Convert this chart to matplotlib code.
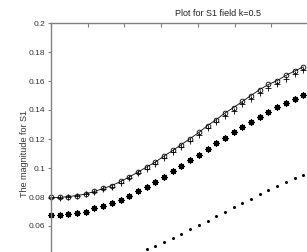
import numpy as np
import matplotlib
matplotlib.use("Agg")
import matplotlib.pyplot as plt

plt.rcParams['font.family'] = ['Liberation Sans', 'DejaVu Sans']

# sample index along the x axis
x = list(range(30))
# solid line with circles
s_circle = [0.0797, 0.0797, 0.0803, 0.0810, 0.0821, 0.0838, 0.0859, 0.0879, 0.0907, 0.0938,
            0.0972, 0.1007, 0.1041, 0.1083, 0.1121, 0.1162, 0.1203, 0.1245, 0.1293, 0.1334,
            0.1379, 0.1417, 0.1459, 0.1500, 0.1541, 0.1576, 0.1603, 0.1638, 0.1669, 0.1697]
# plus markers, just under the circles
s_plus = [0.0794, 0.0794, 0.0800, 0.0807, 0.0818, 0.0835, 0.0852, 0.0872, 0.0900, 0.0931,
          0.0965, 0.0993, 0.1027, 0.1069, 0.1107, 0.1148, 0.1186, 0.1228, 0.1276, 0.1317,
          0.1362, 0.1396, 0.1438, 0.1479, 0.1520, 0.1555, 0.1579, 0.1614, 0.1645, 0.1673]
# asterisks
s_star = [0.0679, 0.0679, 0.0686, 0.0690, 0.0700, 0.0721, 0.0738, 0.0759, 0.0779, 0.0807,
          0.0841, 0.0869, 0.0903, 0.0938, 0.0976, 0.1014, 0.1055, 0.1093, 0.1131, 0.1172,
          0.1207, 0.1248, 0.1283, 0.1317, 0.1352, 0.1386, 0.1421, 0.1448, 0.1479, 0.1503]
# dots (lower part runs off the bottom of the picture)
x_dot = list(range(10, 30))
s_dot = [0.0417, 0.0441, 0.0465, 0.0493, 0.0517, 0.0548, 0.0579, 0.0607, 0.0634, 0.0669,
         0.0697, 0.0731, 0.0759, 0.0786, 0.0821, 0.0848, 0.0876, 0.0903, 0.0931, 0.0952]
yticks = [0.06, 0.08, 0.1, 0.12, 0.14, 0.16, 0.18, 0.2]
ylabels = ['0.06', '0.08', '0.1', '0.12', '0.14', '0.16', '0.18', '0.2']

W, H = 307, 252
fig = plt.figure(figsize=(W / 100, H / 100), dpi=100)
# axes run past the right and bottom edges (cropped figure)
ax = fig.add_axes([51 / W, -32 / H, 334 / W, 261 / H])

ax.plot(x, s_circle, color='k', ls='-', lw=0.6, marker='o', ms=3.4, mfc='none', mew=0.6, clip_on=False)
ax.plot(x, s_plus, color='k', ls='none', marker='+', ms=4.2, mew=0.6, clip_on=False)
ax.plot(x, s_star, color='k', ls='none', marker=(8, 2, 0), ms=4.4, mew=0.9, clip_on=False)
ax.plot(x_dot, s_dot, color='k', ls='none', marker='.', ms=2.4, clip_on=False)

ax.set_xlim(0, 38.4)
ax.set_ylim(0.02, 0.2)
ax.set_xticks(np.arange(0, 38.4, 4.22))
ax.set_xticklabels([])
ax.set_yticks(yticks)
ax.set_yticklabels(ylabels)

for sp in ax.spines.values():
    sp.set_color('#808080')
    sp.set_linewidth(1.0)
ax.tick_params(axis='x', top=True, bottom=True, direction='in', length=3, width=0.8, color='#808080')
ax.tick_params(axis='y', left=True, right=False, direction='out', length=2.5, width=0.8,
               color='#808080', labelsize=6, labelcolor='#333333', pad=1.5)

ax.set_title('Plot for S1 field k=0.5', fontsize=6.5, color='#202020', pad=5)
ax.set_ylabel('The magnitude for S1', fontsize=6.5, color='#333333', labelpad=0)
ax.yaxis.set_label_coords(-22 / 334, 0.5)

fig.savefig('out.png', dpi=100)
